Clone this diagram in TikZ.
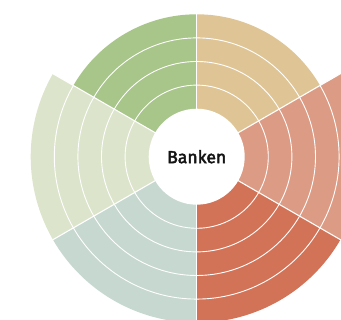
\documentclass[tikz,border=0pt]{standalone}
\usepackage{fontspec}
\newfontfamily\labelfont{Fira Sans}
\newcommand\medtext[1]{\special{pdf:literal direct 0.45 w 2 Tr}#1\special{pdf:literal direct 0 Tr}}
\definecolor{cgreen}{HTML}{A8C58A}
\definecolor{ctan}{HTML}{DFC596}
\definecolor{csal}{HTML}{DC9B84}
\definecolor{cred}{HTML}{D27358}
\definecolor{cgrey}{HTML}{C7D8D0}
\definecolor{clgreen}{HTML}{DCE4CC}
\definecolor{ctext}{HTML}{141414}
\tikzset{
  ringline/.style={draw=white, line width=0.9pt},
  sepline/.style={draw=white, line width=1.1pt},
  hub/.style={circle, fill=white, minimum size=96pt, inner sep=0pt, text=ctext,
    font=\labelfont\fontsize{17.5}{20}\selectfont}
}
\begin{document}
\begin{tikzpicture}[x=1pt,y=1pt]
\useasboundingbox (0,0) rectangle (341,320);
\clip (0,0) rectangle (341,320);
\coordinate (c) at (196.7,163.3);
\foreach \a/\col/\R in {30/ctan/142.4, -30/csal/166, -90/cred/166, -150/cgrey/166, 150/clgreen/166, 90/cgreen/142.4}{
  \fill[\col] (c) -- ++(\a:\R) arc[start angle=\a, delta angle=60, radius=\R] -- cycle;
  \foreach \r in {71.6,95.2,118.8,142.4}{
    \ifdim\r pt<\R pt
      \draw[ringline] (c) ++(\a:\r) arc[start angle=\a, delta angle=60, radius=\r];
    \fi
  }
}
\foreach \a in {30,-30,-90,-150,150,90}{
  \draw[sepline] (c) -- ++(\a:170);
}
\node[hub] (center) at (c) {\medtext{Banken}};
\end{tikzpicture}
\end{document}
